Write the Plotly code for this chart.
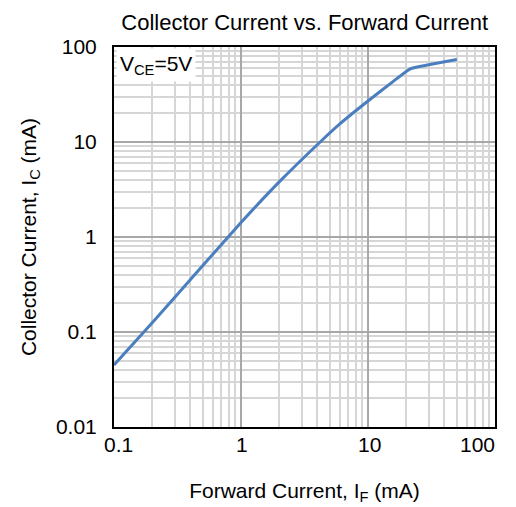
import math
import plotly.graph_objects as go

# Data (log-log)
forward_current_mA = [0.1, 0.2, 0.5, 1.0, 2.0, 4.2, 6.0, 10.0, 16.0, 21.5, 30.0, 50.0]
collector_current_mA = [0.045, 0.125, 0.5, 1.42, 3.8, 10.0, 15.5, 27.0, 44.0, 59.0, 65.0, 74.0]

x_major = [0.1, 1, 10, 100]
x_major_text = ["0.1", "1", "10", "100"]
y_major = [0.01, 0.1, 1, 10, 100]
y_major_text = ["0.01", "0.1", "1", "10", "100"]

x_minor = [d * m for d in [0.1, 1, 10] for m in range(2, 10)]
y_minor = [d * m for d in [0.01, 0.1, 1, 10] for m in range(2, 10)]

font_family = "Liberation Sans, Arial, sans-serif"

# page has an 8px body margin, so the figure is 8px smaller than the window
W, H = 508, 499

fig = go.Figure()
fig.add_trace(go.Scatter(
    x=forward_current_mA, y=collector_current_mA, mode="lines",
    line=dict(color="#4a7ebf", width=3, shape="spline", smoothing=0.5),
    showlegend=False, hoverinfo="skip"))

# x tick labels as annotations so the last one can sit inside the frame like the reference
# (annotation x on a log axis is given in log10 units)
tick_annotations = []
n = len(x_major)
for i, (v, t) in enumerate(zip(x_major, x_major_text)):
    if i == n - 1:
        anchor, shift = "right", 2
    elif i == 0:
        anchor, shift = "center", 4
    else:
        anchor, shift = "center", 1
    tick_annotations.append(dict(
        text=t, x=math.log10(v), xref="x", y=0, yref="paper", xanchor=anchor, yanchor="middle",
        xshift=shift, yshift=-17, showarrow=False, font=dict(size=21, family=font_family)))

fig.update_layout(
    width=W, height=H,
    margin=dict(l=106, r=21, t=39, b=80),
    paper_bgcolor="white", plot_bgcolor="white",
    font=dict(family=font_family, color="black", size=21),
    title=dict(text="Collector Current vs. Forward Current", xref="container", x=0.584,
               xanchor="center", yref="container", y=0.972, yanchor="middle",
               font=dict(size=22, family=font_family)),
    xaxis=dict(type="log", range=[-1, 2], tickvals=x_major, ticktext=x_major_text,
               showticklabels=False,
               showgrid=True, gridcolor="#a8a8a8", gridwidth=1.5,
               showline=True, linecolor="black", linewidth=2, mirror=True,
               ticks="", ticklen=0,
               minor=dict(tickvals=x_minor, showgrid=True, gridcolor="#d6d6d6", gridwidth=1.5, ticks=""),
               title=dict(text="Forward Current, I<sub>F</sub> (mA)", standoff=55, font=dict(size=21)),
               zeroline=False, automargin=False),
    yaxis=dict(type="log", range=[-2, 2], tickvals=y_major, ticktext=y_major_text,
               showgrid=True, gridcolor="#a8a8a8", gridwidth=1.5,
               showline=True, linecolor="black", linewidth=2, mirror=True,
               ticks="", ticklen=0, ticklabelstandoff=11,
               minor=dict(tickvals=y_minor, showgrid=True, gridcolor="#d6d6d6", gridwidth=1.5, ticks=""),
               title=dict(text="Collector Current, I<sub>C</sub> (mA)", standoff=14, font=dict(size=21)),
               zeroline=False, automargin=False),
    annotations=[dict(text="V<sub>CE</sub>=5V", xref="paper", yref="paper", x=0.006, y=0.997,
                      xanchor="left", yanchor="top", showarrow=False, borderpad=3,
                      bgcolor="white", font=dict(size=21, family=font_family))] + tick_annotations,
)

fig.write_html("out.html")
